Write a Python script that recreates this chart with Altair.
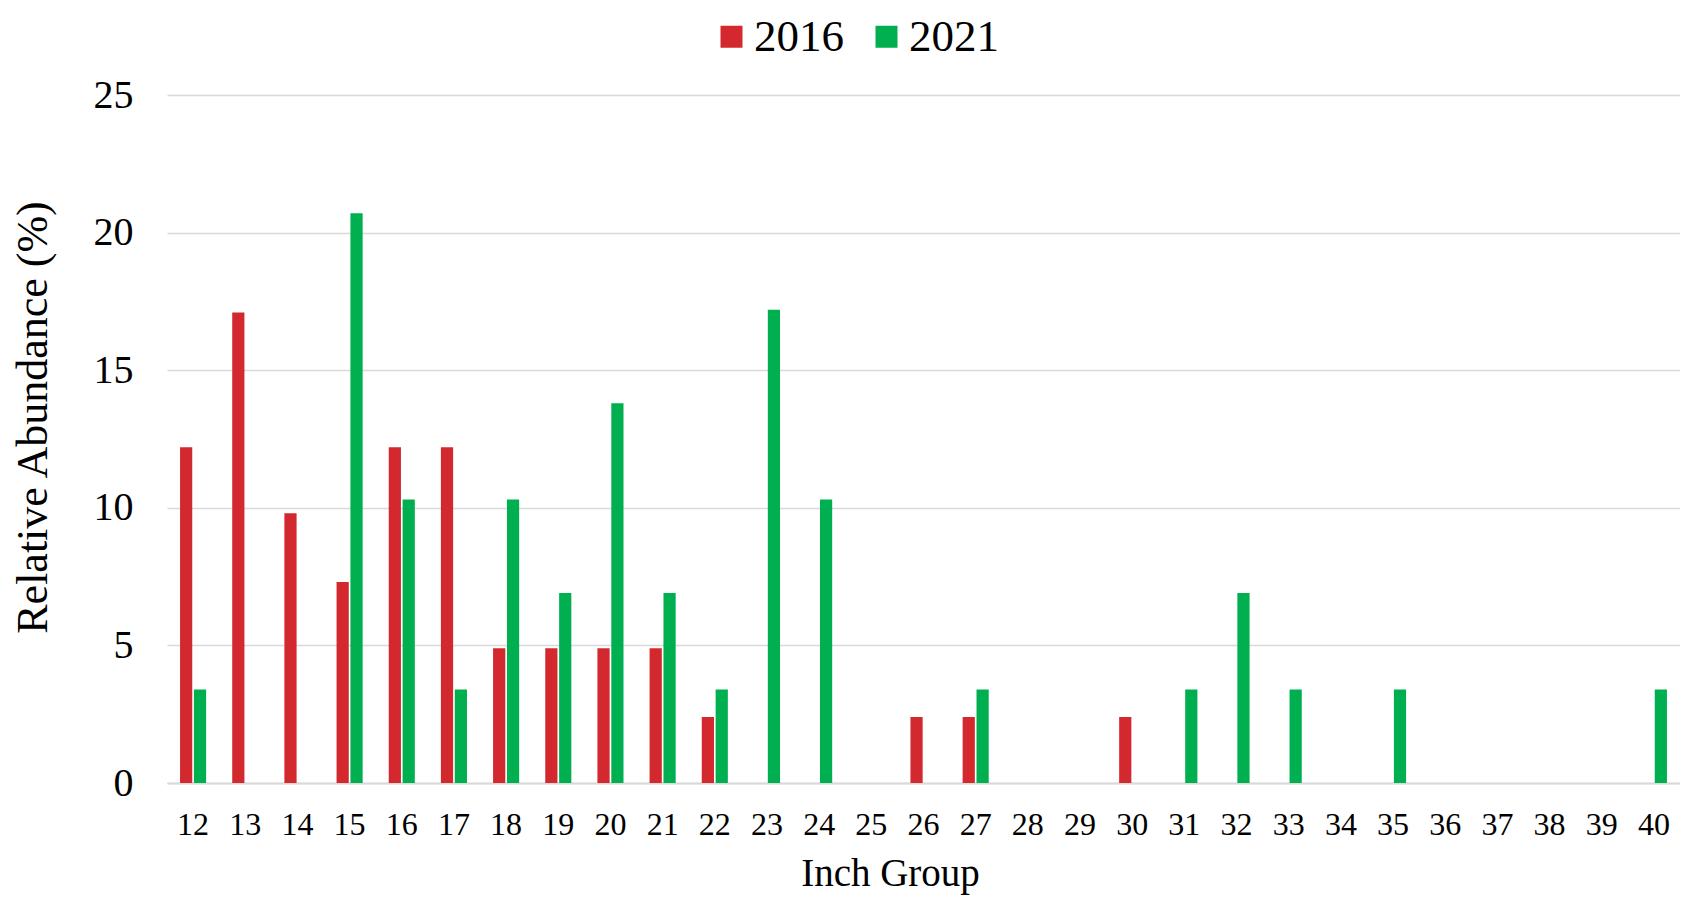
import altair as alt
import pandas as pd

inch_groups = [str(i) for i in range(12, 41)]
abund_2016 = [12.2, 17.1, 9.8, 7.3, 12.2, 12.2, 4.9, 4.9, 4.9, 4.9, 2.4,
              0, 0, 0, 2.4, 2.4, 0, 0, 2.4,
              0, 0, 0, 0, 0, 0, 0, 0, 0, 0]
abund_2021 = [3.4, 0, 0, 20.7, 10.3, 3.4, 10.3, 6.9, 13.8, 6.9, 3.4, 17.2, 10.3,
              0, 0, 3.4, 0, 0, 0, 3.4, 6.9, 3.4, 0, 3.4, 0, 0, 0, 0, 3.4]
years = ["2016", "2021"]
colors = ["#D3292E", "#00B050"]

rows = []
for g, a, b in zip(inch_groups, abund_2016, abund_2021):
    rows.append({"group": g, "year": years[0], "value": a})
    rows.append({"group": g, "year": years[1], "value": b})
df = pd.DataFrame(rows)

FONT = "Liberation Serif"

chart = alt.Chart(df).mark_bar().encode(
    x=alt.X("group:N", sort=inch_groups,
            scale=alt.Scale(domain=inch_groups, paddingInner=0.5, paddingOuter=0.25),
            axis=alt.Axis(title="Inch Group", labelAngle=0, ticks=False,
                          domainColor="#D9D9D9", domainWidth=2,
                          labelFontSize=32, labelPadding=26, labelColor="black",
                          titleFontSize=39, titleFontWeight="normal", titleColor="black",
                          titleX=723, titleY=102, titleAlign="center",
                          titleBaseline="alphabetic")),
    xOffset=alt.XOffset("year:N", scale=alt.Scale(domain=years, paddingInner=0.12)),
    y=alt.Y("value:Q", scale=alt.Scale(domain=[0, 25], nice=False),
            axis=alt.Axis(title="Relative Abundance (%)", values=[0, 5, 10, 15, 20, 25],
                          domain=False, ticks=False, gridColor="#D9D9D9", gridWidth=1.5,
                          labelFontSize=40, labelPadding=34, labelColor="black",
                          titleFontSize=44, titleFontWeight="normal", titleColor="black",
                          titleX=-134, titleY=322, titleAngle=-90, titleAlign="center",
                          titleBaseline="middle")),
    color=alt.Color("year:N", scale=alt.Scale(domain=years, range=colors),
                    legend=alt.Legend(title=None, orient="none", direction="horizontal",
                                      legendX=542, legendY=-81,
                                      symbolType="square", symbolSize=484,
                                      symbolStrokeWidth=0, symbolOpacity=1,
                                      labelFontSize=45, labelOffset=0,
                                      columnPadding=20, labelColor="black")),
).properties(
    width=1513, height=688,
    autosize=alt.AutoSizeParams(type="none"),
    padding={"left": 159, "top": 87, "right": 0, "bottom": 112},
).configure(
    font=FONT,
).configure_view(stroke=None)

chart.save("out.html", embed_options={"renderer": "svg", "actions": False})
